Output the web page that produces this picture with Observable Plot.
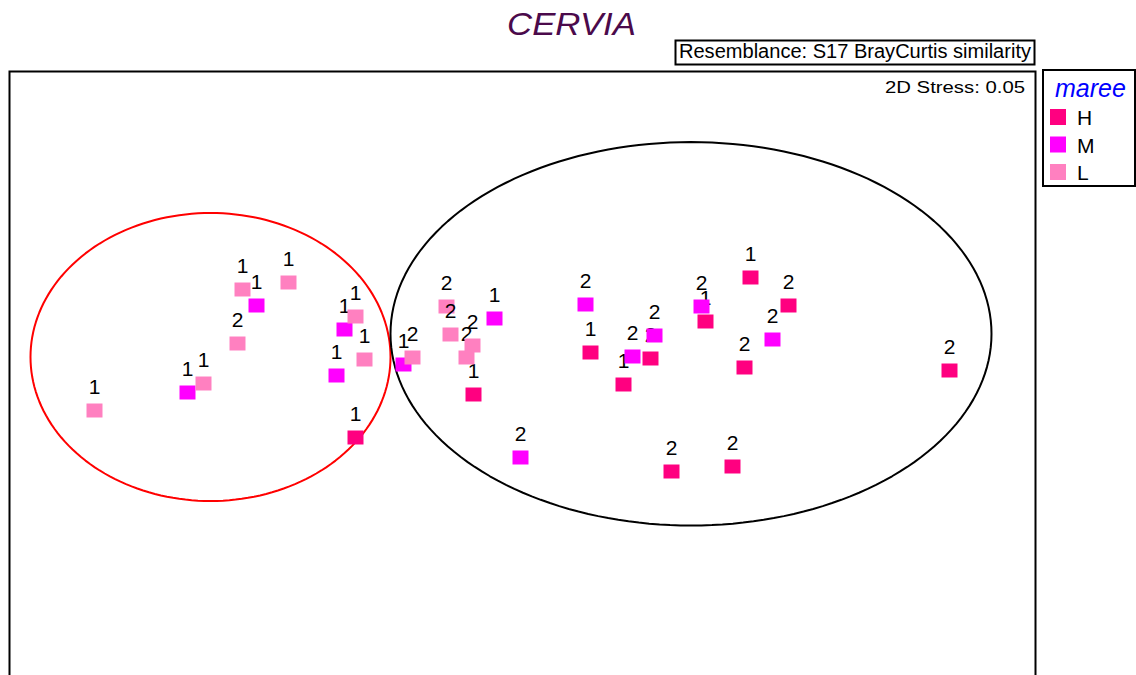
<!DOCTYPE html>
<html>
<head>
<meta charset="utf-8">
<script src="https://cdn.jsdelivr.net/npm/d3@7"></script>
<script src="https://cdn.jsdelivr.net/npm/@observablehq/plot@0.6"></script>
<style>
  html, body { margin: 0; padding: 0; background: #fff; overflow: hidden; }
  #wrap { position: relative; width: 1136px; height: 675px; overflow: hidden; font-family: "Liberation Sans", Arial, sans-serif; }
  #chart { position: absolute; left: 0; top: 0; }
  #overlay { position: absolute; left: 0; top: 0; }
</style>
</head>
<body>
<div id="wrap">
  <div id="chart"></div>
  <svg id="overlay" width="1136" height="675"></svg>
</div>
<script>
// ---- Data (nMDS coordinates) ----
const maree = [
  "H","H","H","H","H","H","H","H","H","H","H","H",
  "M","M","M","M","M","M","M","M","M","M","M","M",
  "L","L","L","L","L","L","L","L","L","L","L","L"
];
const site = [
  "1","1","1","1","2","1","1","2","2","2","2","2",
  "1","1","1","1","1","1","2","2","2","2","2","2",
  "1","1","2","1","1","1","1","2","2","2","2","2"
];
const nmds1 = [
  -0.835, -0.245, 0.34, 0.505, 0.64, 0.915, 1.14, 1.33, 1.11, 2.135, 0.745, 1.05,
  -1.675, -1.33, -0.89, -0.93, -0.595, -0.14, -0.01, 0.315, 0.55, 0.66, 0.895, 1.25,
  -2.14, -1.595, -1.425, -1.4, -1.17, -0.835, -0.79, -0.55, -0.38, -0.36, -0.28, -0.25
];
const nmds2 = [
  -0.335, -0.12, 0.09, -0.07, 0.06, 0.245, 0.465, 0.325, 0.015, 0.0, -0.505, -0.48,
  -0.11, 0.325, 0.205, -0.025, 0.03, 0.26, -0.435, 0.33, 0.07, 0.175, 0.32, 0.155,
  -0.2, -0.065, 0.135, 0.405, 0.44, 0.27, 0.055, 0.065, 0.32, 0.18, 0.065, 0.125
];
const mareeLevels = ["H", "M", "L"];
const mareeColors = ["#FF0080", "#FF00FF", "#FF80C0"];

// group ellipses (centre and radii in nMDS units)
const ellipseName = ["cluster 1", "cluster 2"];
const ellipseCx = [-1.56, 0.8425];
const ellipseCy = [0.0675, 0.1835];
const ellipseRx = [0.90, 1.5025];
const ellipseRy = [0.72, 0.9585];
const ellipseColor = ["#FF0000", "#000000"];

const stressText = "2D Stress: 0.05";
const titleText = "CERVIA";
const resemblanceText = "Resemblance: S17 BrayCurtis similarity";
const legendTitle = "maree";

// ---- Build tables ----
const points = maree.map((m, i) => ({maree: m, site: site[i], x: nmds1[i], y: nmds2[i]}));
const ellipsePts = ellipseName.flatMap((name, k) =>
  d3.range(0, 361, 2).map(a => ({
    name,
    x: ellipseCx[k] + ellipseRx[k] * Math.cos(a * Math.PI / 180),
    y: ellipseCy[k] + ellipseRy[k] * Math.sin(a * Math.PI / 180)
  }))
);

const rectSymbol = {
  draw(ctx) {
    ctx.moveTo(-8, -7); ctx.lineTo(8, -7); ctx.lineTo(8, 7); ctx.lineTo(-8, 7); ctx.closePath();
  }
};

const font = "Liberation Sans, Arial, sans-serif";

const pointMarks = points.flatMap(d => [
  Plot.dot([d], {x: "x", y: "y", r: 8, symbol: rectSymbol, fill: "maree", stroke: "none"}),
  Plot.text([d], {x: "x", y: "y", text: "site", fill: "black", fontSize: 21, fontFamily: font,
                  lineAnchor: "bottom", dy: -17})
]);

const chart = Plot.plot({
  width: 1136,
  height: 780,
  marginLeft: 9,
  marginRight: 101,
  marginTop: 71,
  marginBottom: 20,
  x: {domain: [-2.565, 2.565], axis: null},
  y: {domain: [-1.95, 1.495], axis: null},
  color: {domain: mareeLevels, range: mareeColors},
  style: {background: "transparent", fontFamily: font},
  marks: [
    ...ellipseName.map((name, k) =>
      Plot.line(ellipsePts.filter(p => p.name === name), {x: "x", y: "y", stroke: ellipseColor[k], strokeWidth: 2})
    ),
    ...pointMarks,
    Plot.frame({stroke: "black", strokeWidth: 2})
  ]
});
document.getElementById("chart").appendChild(chart);

// ---- Title, resemblance box, stress and legend ----
const ov = d3.select("#overlay").style("font-family", font);

ov.append("text")
  .attr("x", 507).attr("y", 35)
  .attr("font-size", 32).attr("font-style", "italic")
  .attr("fill", "#4B0A4B")
  .attr("textLength", 129).attr("lengthAdjust", "spacingAndGlyphs")
  .text(titleText);

ov.append("rect")
  .attr("x", 675.5).attr("y", 40.5).attr("width", 359).attr("height", 24)
  .attr("fill", "white").attr("stroke", "black").attr("stroke-width", 2);
ov.append("text")
  .attr("x", 679).attr("y", 58)
  .attr("font-size", 19.5).attr("fill", "black")
  .attr("textLength", 352).attr("lengthAdjust", "spacingAndGlyphs")
  .text(resemblanceText);

ov.append("text")
  .attr("x", 885).attr("y", 92.5)
  .attr("font-size", 16).attr("fill", "black")
  .attr("textLength", 140).attr("lengthAdjust", "spacingAndGlyphs")
  .text(stressText);

const lg = ov.append("g");
lg.append("rect")
  .attr("x", 1043).attr("y", 70).attr("width", 92).attr("height", 116)
  .attr("fill", "white").attr("stroke", "black").attr("stroke-width", 2);
lg.append("text")
  .attr("x", 1055).attr("y", 97)
  .attr("font-size", 25).attr("font-style", "italic").attr("fill", "#0000FF")
  .text(legendTitle);
mareeLevels.forEach((lvl, i) => {
  const y0 = 109 + i * 27.5;
  lg.append("rect").attr("x", 1050).attr("y", y0).attr("width", 16).attr("height", 16)
    .attr("fill", mareeColors[i]);
  lg.append("text").attr("x", 1077).attr("y", y0 + 16)
    .attr("font-size", 21).attr("fill", "black").text(lvl);
});
</script>
</body>
</html>
